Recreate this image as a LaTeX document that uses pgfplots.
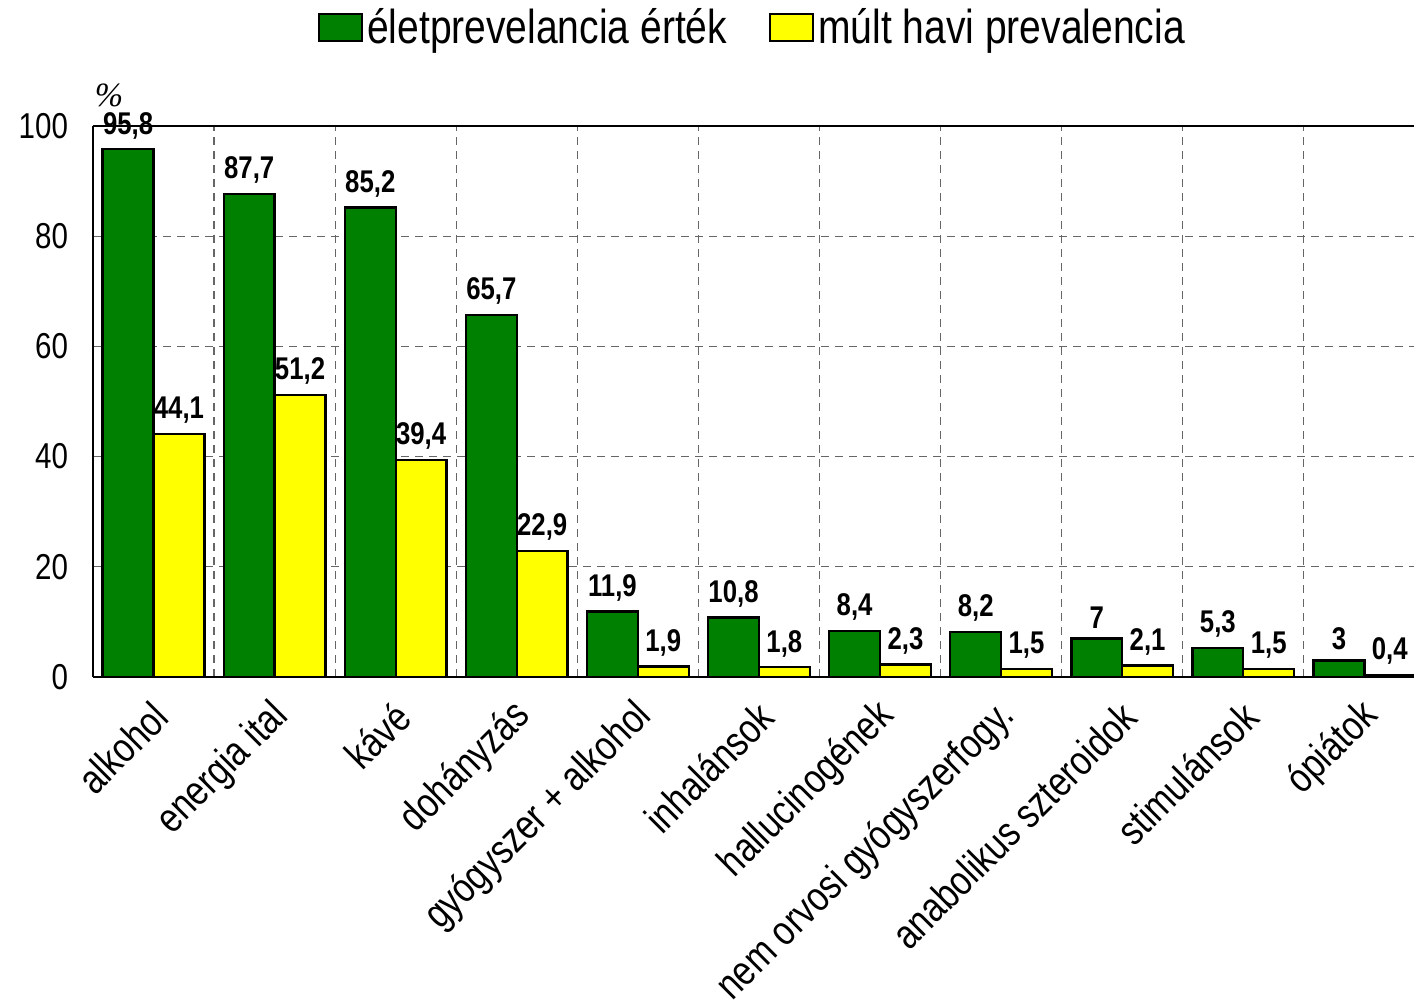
\documentclass[border=0pt]{standalone}
\usepackage{fontspec}
\setmainfont{Liberation Sans}[FakeStretch=0.82]
\newfontfamily\serifit{Liberation Serif}
\usepackage{pgfplots}
\pgfplotsset{compat=1.18}
\definecolor{elet}{RGB}{0,128,0}
\definecolor{mult}{RGB}{255,255,0}

\begin{document}
\begin{tikzpicture}
\useasboundingbox (0pt,0pt) rectangle (707pt,500pt);
\begin{axis}[
    at={(46.5pt,161.5pt)}, anchor=south west,
    width=660.5pt, height=275.5pt, scale only axis,
    xmin=-0.5, xmax=10.41,
    ymin=0, ymax=100,
    ytick={0,20,40,60,80,100},
    xtick={0,1,2,3,4,5,6,7,8,9,10},
    minor xtick={0.5,1.5,2.5,3.5,4.5,5.5,6.5,7.5,8.5,9.5},
    xticklabels={alkohol, energia ital, kávé, dohányzás, gyógyszer + alkohol,
        inhalánsok, hallucinogének, nem orvosi gyógyszerfogy.,
        anabolikus szteroidok, stimulánsok, ópiátok},
    /pgf/number format/assume math mode=true,
    major tick length=0pt, minor tick length=0pt,
    axis x line*=bottom, axis y line*=left,
    axis line style={line width=1pt},
    ymajorgrids=true, xminorgrids=true,
    major grid style={dash pattern=on 4pt off 3pt, draw=black!60, line width=0.6pt},
    minor grid style={dash pattern=on 4pt off 3pt, draw=black!60, line width=0.6pt},
    yticklabel style={font=\fontsize{18}{20}\selectfont, xshift=-9pt},
    xticklabel style={font=\fontsize{20.7}{24}\selectfont, rotate=45, anchor=east,
        xshift=-5.6pt, yshift=-14.3pt},
    ybar, bar width=0.42,
    nodes near coords={\pgfmathprintnumber[use comma, fixed, precision=1]{\pgfplotspointmeta}},
    every node near coord/.append style={font=\bfseries\fontsize{15.7}{18}\selectfont,
        inner sep=2pt, yshift=2.5pt},
    point meta=y,
    clip=false,
    legend columns=2,
    legend style={at={(0.5,1.178)}, anchor=center, draw=none, fill=none,
        font=\fontsize{23.8}{26}\selectfont,
        /tikz/every even column/.append style={column sep=19pt}},
    legend image code/.code={\draw[#1, line width=1pt] (0pt,-6.75pt) rectangle (21.5pt,6.75pt);},
]
\addplot[bar shift=-0.21, fill=elet, draw=black, line width=1.2pt] coordinates {
    (0,95.8) (1,87.7) (2,85.2) (3,65.7) (4,11.9) (5,10.8)
    (6,8.4) (7,8.2) (8,7) (9,5.3) (10,3)
};
\addplot[bar shift=0.21, fill=mult, draw=black, line width=1.2pt] coordinates {
    (0,44.1) (1,51.2) (2,39.4) (3,22.9) (4,1.9) (5,1.8)
    (6,2.3) (7,1.5) (8,2.1) (9,1.5) (10,0.4)
};
\legend{életprevelancia érték, múlt havi prevalencia}
\draw[line width=1pt] (rel axis cs:0,1) -- (rel axis cs:1,1);
\node[font=\serifit\itshape\fontsize{17}{20}\selectfont, xshift=8pt, yshift=15.5pt] at (rel axis cs:0,1) {\%};
\end{axis}
\end{tikzpicture}
\end{document}
